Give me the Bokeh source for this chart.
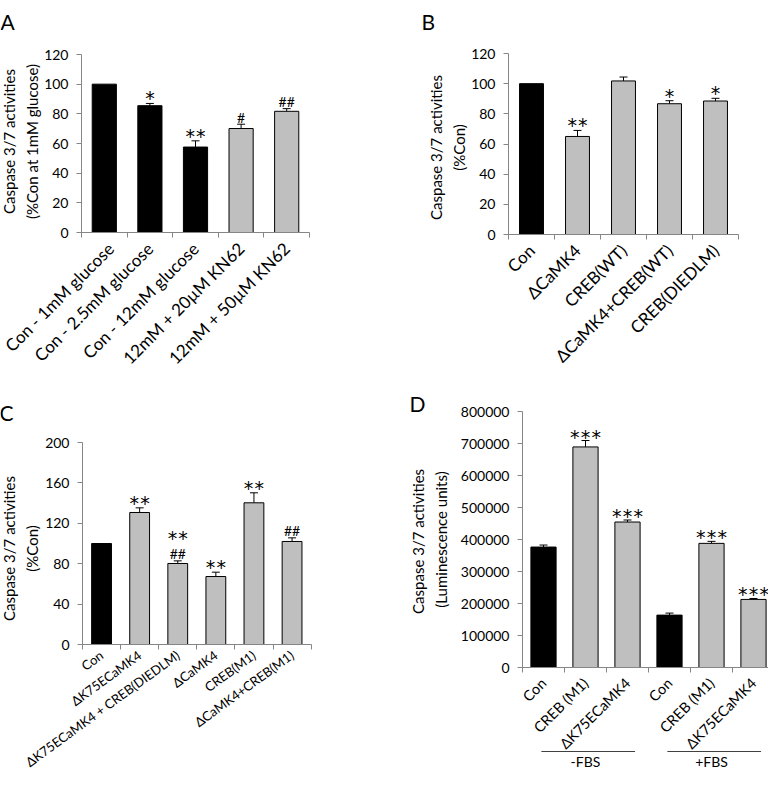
import math
from bokeh.plotting import figure
from bokeh.models import (Range1d, FixedTicker, ColumnDataSource, Whisker, TeeHead,
                          NumeralTickFormatter)
from bokeh.layouts import column, row
from bokeh.embed import file_html
from bokeh.resources import INLINE
from bokeh.core.properties import value

FONT = "Lato"
STAR_FONT = "DejaVu Sans"
BLACK = "#000000"
GRAY = "#BFBFBF"
AXIS = "#868686"

# ---------------- data ----------------
A_labels = ["Con - 1mM glucose", "Con - 2.5mM glucose", "Con - 12mM glucose",
            "12mM + 20\u00b5M KN62", "12mM + 50\u00b5M KN62"]
A_values = [100, 85.5, 57.6, 70.1, 81.7]
A_errors = [0, 1.5, 4.2, 2.9, 1.8]
A_colors = [BLACK, BLACK, BLACK, GRAY, GRAY]
A_stars = [0, 1, 2, 0, 0]
A_hash = ["", "", "", "#", "##"]
A_yticks = [0, 20, 40, 60, 80, 100, 120]

B_labels = ["Con", "\u0394CaMK4", "CREB(WT)", "\u0394CaMK4+CREB(WT)", "CREB(DIEDLM)"]
B_values = [100, 65.0, 101.8, 86.7, 88.5]
B_errors = [0, 4.0, 2.6, 2.0, 1.8]
B_colors = [BLACK, GRAY, GRAY, GRAY, GRAY]
B_stars = [0, 2, 0, 1, 1]
B_hash = ["", "", "", "", ""]
B_yticks = [0, 20, 40, 60, 80, 100, 120]

C_labels = ["Con", "\u0394K75ECaMK4", "\u0394K75ECaMK4 + CREB(DIEDLM)", "\u0394CaMK4",
            "CREB(M1)", "\u0394CaMK4+CREB(M1)"]
C_values = [100, 130.7, 80.2, 67.3, 140.3, 102.0]
C_errors = [0, 4.6, 2.6, 4.3, 9.9, 3.6]
C_colors = [BLACK, GRAY, GRAY, GRAY, GRAY, GRAY]
C_stars = [0, 2, 0, 2, 2, 0]
C_hash = ["", "", "##", "", "", "##"]
C_stars_high = [0, 0, 2, 0, 0, 0]
C_yticks = [0, 40, 80, 120, 160, 200]

D_labels = ["Con", "CREB (M1)", "\u0394K75ECaMK4", "Con", "CREB (M1)", "\u0394K75ECaMK4"]
D_values = [376400, 689300, 454600, 163700, 387900, 212700]
D_errors = [6300, 20000, 6300, 6300, 6300, 3000]
D_colors = [BLACK, GRAY, GRAY, BLACK, GRAY, GRAY]
D_stars = [0, 3, 3, 0, 3, 3]
D_hash = ["", "", "", "", "", ""]
D_yticks = [0, 100000, 200000, 300000, 400000, 500000, 600000, 700000, 800000]
D_groups = ["-FBS", "+FBS"]
D_group_members = [[0, 1, 2], [3, 4, 5]]


def add_stars(p, centers, uppers, counts, spacing, size, y_off):
    xs, ys, dx = [], [], []
    for c, u, n in zip(centers, uppers, counts):
        for k in range(n):
            xs.append(c)
            ys.append(u)
            dx.append((k - (n - 1) / 2) * spacing)
    src = ColumnDataSource(dict(x=xs, y=ys, dx=dx))
    p.text(x="x", y="y", x_offset="dx", y_offset=y_off, text=value("*"), source=src,
           text_align="center", text_baseline="alphabetic",
           text_font=value(STAR_FONT), text_font_size=f"{size}px", text_color="black")


def panel(letter, labels, values, errors, colors, stars, hashes, yticks, ylabel,
          canvas, ax, ay, atop, cw, bar_width, xlab_size, xlab_angle,
          letter_pos, ylab_pos, star_space=10.7, star_size=19, star_off=-5, hash_off=-7,
          tick_standoff=8, fmt=None):
    """canvas/ax/ay/atop/cw give the page geometry (pixels) of the panel:
    the plot frame covers the whole canvas, axes are pinned at data zero."""
    cx, cy, W, H = canvas
    ymax = yticks[-1]
    ppu = (ay - atop) / ymax

    def X(px):
        return (px - ax) / cw

    def Y(py):
        return (ay - py) / ppu

    n = len(values)
    centers = [i + 0.5 for i in range(n)]
    uppers = [v + e for v, e in zip(values, errors)]
    p = figure(width=W, height=H, title=None,
               x_range=Range1d(X(cx), X(cx + W)), y_range=Range1d(Y(cy + H), Y(cy)),
               output_backend="svg", toolbar_location=None, tools="", min_border=0)
    p.frame_align = False
    p.outline_line_color = None
    p.grid.visible = False
    p.background_fill_color = "white"
    p.border_fill_color = "white"

    src = ColumnDataSource(dict(x=centers, top=values, color=colors))
    p.vbar(x="x", top="top", bottom=0, width=bar_width, fill_color="color",
           line_color="black", line_width=1, source=src)

    wx = [c for c, e in zip(centers, errors) if e > 0]
    wl = [v for v, e in zip(values, errors) if e > 0]
    wu = [u for u, e in zip(uppers, errors) if e > 0]
    wsrc = ColumnDataSource(dict(x=wx, lower=wl, upper=wu))
    p.add_layout(Whisker(source=wsrc, base="x", lower="lower", upper="upper",
                         dimension="height", line_color="black", line_width=1,
                         upper_head=TeeHead(size=8, line_color="black", line_width=1),
                         lower_head=None))

    add_stars(p, centers, uppers, stars, star_space, star_size, star_off)
    p.text(x=centers, y=uppers, text=hashes, text_align="center",
           text_baseline="alphabetic", y_offset=hash_off,
           text_font=value(FONT), text_font_size="14px", text_color="black")

    xa = p.xaxis[0]
    xa.fixed_location = 0
    xa.bounds = (0, n)
    xa.ticker = FixedTicker(ticks=centers, minor_ticks=list(range(n + 1)))
    xa.major_label_overrides = {c: lab for c, lab in zip(centers, labels)}
    xa.major_tick_in = 0
    xa.major_tick_out = 0
    xa.minor_tick_in = 0
    xa.minor_tick_out = 5
    xa.minor_tick_line_color = AXIS
    xa.axis_line_color = AXIS
    xa.major_label_orientation = xlab_angle
    xa.major_label_text_font = FONT
    xa.major_label_text_font_size = f"{xlab_size}px"
    xa.major_label_text_color = "black"
    xa.major_label_standoff = tick_standoff

    ya = p.yaxis[0]
    ya.fixed_location = 0
    ya.bounds = (0, ymax)
    ya.ticker = FixedTicker(ticks=yticks, minor_ticks=[])
    ya.major_tick_in = 0
    ya.major_tick_out = 5
    ya.major_tick_line_color = AXIS
    ya.minor_tick_line_color = None
    ya.axis_line_color = AXIS
    ya.major_label_text_font = FONT
    ya.major_label_text_font_size = "14px"
    ya.major_label_text_color = "black"
    ya.major_label_standoff = 8
    if fmt is not None:
        ya.formatter = fmt

    # y-axis title (two lines, rotated)
    p.text(x=[X(ylab_pos[0])], y=[Y(ylab_pos[1])], text=[ylabel], angle=math.pi / 2,
           text_align="center", text_baseline="middle", text_line_height=1.25,
           text_font=value(FONT), text_font_size="15px", text_color="black")
    # panel letter
    p.text(x=[X(letter_pos[0])], y=[Y(letter_pos[1])], text=[letter],
           text_align="left", text_baseline="alphabetic",
           text_font=value(FONT), text_font_size="21px", text_color="black")
    return p, centers, uppers, X, Y


pA, _, _, _, _ = panel("A", A_labels, A_values, A_errors, A_colors, A_stars, A_hash, A_yticks,
                       "Caspase 3/7 activities\n(%Con at 1mM glucose)",
                       (8, 8, 384, 382), 89, 240, 62, 45.6, 0.53, 17, math.pi / 4,
                       (8, 29), (28, 149))
pB, _, _, _, _ = panel("B", B_labels, B_values, B_errors, B_colors, B_stars, B_hash, B_yticks,
                       "Caspase 3/7 activities\n(%Con)",
                       (392, 8, 384, 382), 516, 242, 61, 46, 0.52, 17, math.pi / 4,
                       (429, 29), (455, 155))
pC, cC, uC, _, _ = panel("C", C_labels, C_values, C_errors, C_colors, C_stars, C_hash, C_yticks,
                         "Caspase 3/7 activities\n(%Con)",
                         (8, 390, 384, 387), 90, 652, 450, 38.1, 0.52, 13, 0.63,
                         (7, 420), (28, 556), tick_standoff=4)
add_stars(pC, cC, uC, C_stars_high, 10.7, 19, -23)

pD, cD, uD, XD, YD = panel("D", D_labels, D_values, D_errors, D_colors, D_stars, D_hash,
                           D_yticks, "Caspase 3/7  activities\n(Luminescence units)",
                           (392, 390, 384, 387), 530, 675, 419, 42, 0.6, 14.5, math.pi / 4,
                           (417, 411), (437, 547), star_space=10.7, star_off=-4,
                           fmt=NumeralTickFormatter(format="0"))

# group lines and labels below the category labels of panel D
g_x0 = [m[0] + 0.45 for m in D_group_members]
g_x1 = [m[-1] + 1 - 0.32 for m in D_group_members]
g_xc = [(m[0] + m[-1] + 1) / 2 for m in D_group_members]
pD.segment(x0=g_x0, x1=g_x1, y0=[YD(759)] * len(D_groups), y1=[YD(759)] * len(D_groups),
           line_color="#404040", line_width=1)
pD.text(x=g_xc, y=[YD(760)] * len(D_groups), text=D_groups, text_align="center",
        text_baseline="top", text_font=value(FONT), text_font_size="14px",
        text_color="black")

layout = column(row(pA, pB), row(pC, pD))
open("out.html", "w").write(file_html(layout, INLINE))
